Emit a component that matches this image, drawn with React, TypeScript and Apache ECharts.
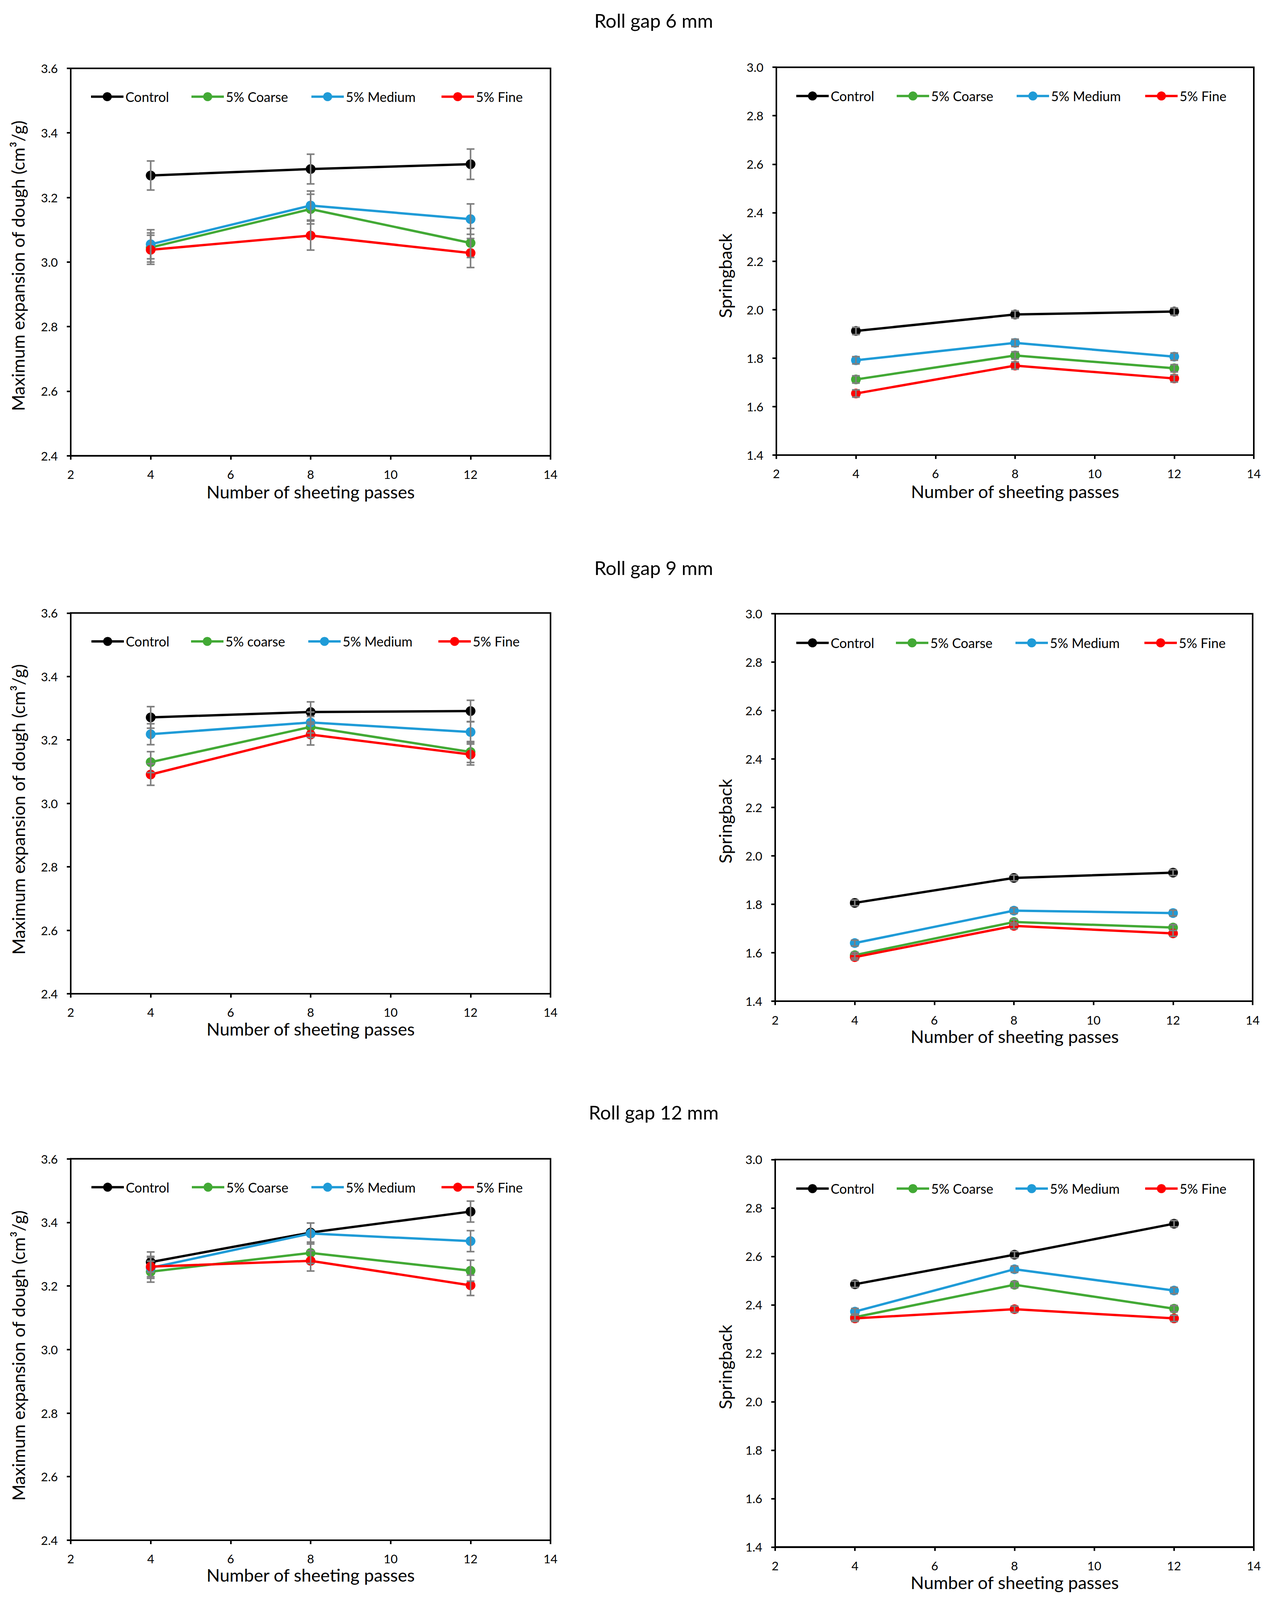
import React, { useEffect, useRef } from "react";
import * as echarts from "echarts";

// ---------- data ----------
const passes = [4, 8, 12];
const xTickValues = [2, 4, 6, 8, 10, 12, 14];
const expansionTickValues = [2.4, 2.6, 2.8, 3.0, 3.2, 3.4, 3.6];
const springbackTickValues = [1.4, 1.6, 1.8, 2.0, 2.2, 2.4, 2.6, 2.8, 3.0];

const legendLabels = ["Control", "5% Coarse", "5% Medium", "5% Fine"];
const legendLabels9 = ["Control", "5% coarse", "5% Medium", "5% Fine"];
const rollGapTitles = ["Roll gap 6 mm", "Roll gap 9 mm", "Roll gap 12 mm"];
const expansionTitle = "Maximum expansion of dough (cm³/g)";
const springbackTitle = "Springback";
const xTitle = "Number of sheeting passes";

// Roll gap 6 mm - maximum expansion
const exp6Control = [3.268, 3.288, 3.303];
const exp6Coarse = [3.045, 3.164, 3.059];
const exp6Medium = [3.055, 3.175, 3.133];
const exp6Fine = [3.038, 3.082, 3.028];
const exp6ControlErr = [0.045, 0.046, 0.047];
const exp6CoarseErr = [0.045, 0.046, 0.045];
const exp6MediumErr = [0.045, 0.045, 0.047];
const exp6FineErr = [0.045, 0.045, 0.045];

// Roll gap 6 mm - springback
const spr6Control = [1.912, 1.98, 1.992];
const spr6Coarse = [1.712, 1.811, 1.758];
const spr6Medium = [1.791, 1.863, 1.806];
const spr6Fine = [1.654, 1.769, 1.716];
const spr6ControlErr = [0.015, 0.015, 0.015];
const spr6CoarseErr = [0.015, 0.015, 0.015];
const spr6MediumErr = [0.015, 0.015, 0.015];
const spr6FineErr = [0.015, 0.015, 0.015];

// Roll gap 9 mm - maximum expansion
const exp9Control = [3.271, 3.288, 3.291];
const exp9Coarse = [3.13, 3.241, 3.162];
const exp9Medium = [3.218, 3.255, 3.225];
const exp9Fine = [3.091, 3.217, 3.154];
const exp9ControlErr = [0.034, 0.032, 0.034];
const exp9CoarseErr = [0.033, 0.033, 0.033];
const exp9MediumErr = [0.033, 0.033, 0.033];
const exp9FineErr = [0.034, 0.033, 0.033];

// Roll gap 9 mm - springback
const spr9Control = [1.806, 1.909, 1.931];
const spr9Coarse = [1.59, 1.727, 1.704];
const spr9Medium = [1.64, 1.774, 1.764];
const spr9Fine = [1.582, 1.711, 1.68];
const spr9ControlErr = [0.012, 0.012, 0.012];
const spr9CoarseErr = [0.012, 0.012, 0.012];
const spr9MediumErr = [0.012, 0.012, 0.012];
const spr9FineErr = [0.012, 0.012, 0.012];

// Roll gap 12 mm - maximum expansion
const exp12Control = [3.275, 3.368, 3.434];
const exp12Coarse = [3.245, 3.304, 3.248];
const exp12Medium = [3.257, 3.365, 3.341];
const exp12Fine = [3.261, 3.279, 3.202];
const exp12ControlErr = [0.032, 0.03, 0.033];
const exp12CoarseErr = [0.033, 0.033, 0.033];
const exp12MediumErr = [0.033, 0.033, 0.033];
const exp12FineErr = [0.032, 0.032, 0.032];

// Roll gap 12 mm - springback
const spr12Control = [2.485, 2.607, 2.735];
const spr12Coarse = [2.349, 2.483, 2.384];
const spr12Medium = [2.372, 2.547, 2.459];
const spr12Fine = [2.344, 2.382, 2.344];
const spr12ControlErr = [0.013, 0.013, 0.013];
const spr12CoarseErr = [0.013, 0.013, 0.013];
const spr12MediumErr = [0.013, 0.013, 0.013];
const spr12FineErr = [0.013, 0.013, 0.013];

// ---------- styling / layout (reference pixel space 3253 x 4497) ----------
const REF_W = 3253;
const REF_H = 4497;
const colors = ["#000000", "#42A935", "#1F9BD7", "#FF0000"];
const FONT = "Lato";

type Panel = {
  grid: { left: number; top: number; width: number; height: number };
  ticks: number[];
  labels: string[];
  values: number[][];
  errors: number[][];
  legendX: number[];
  legendY: number;
  yTitle: string;
  yTitlePos: [number, number];
  xTitlePos: [number, number];
};

const panels: Panel[] = [
  {
    grid: { left: 181, top: 192, width: 1228, height: 1089 },
    ticks: expansionTickValues,
    labels: legendLabels,
    values: [exp6Control, exp6Coarse, exp6Medium, exp6Fine],
    errors: [exp6ControlErr, exp6CoarseErr, exp6MediumErr, exp6FineErr],
    legendX: [49, 306, 613, 946],
    legendY: 269,
    yTitle: expansionTitle,
    yTitlePos: [46, 747],
    xTitlePos: [795, 1382],
  },
  {
    grid: { left: 1987, top: 189, width: 1222, height: 1090 },
    ticks: springbackTickValues,
    labels: legendLabels,
    values: [spr6Control, spr6Coarse, spr6Medium, spr6Fine],
    errors: [spr6ControlErr, spr6CoarseErr, spr6MediumErr, spr6FineErr],
    legendX: [48, 305, 612, 941],
    legendY: 267,
    yTitle: springbackTitle,
    yTitlePos: [1856, 775],
    xTitlePos: [2598, 1381],
  },
  {
    grid: { left: 181, top: 1723, width: 1228, height: 1070 },
    ticks: expansionTickValues,
    labels: legendLabels9,
    values: [exp9Control, exp9Coarse, exp9Medium, exp9Fine],
    errors: [exp9ControlErr, exp9CoarseErr, exp9MediumErr, exp9FineErr],
    legendX: [50, 305, 605, 938],
    legendY: 1800,
    yTitle: expansionTitle,
    yTitlePos: [47, 2275],
    xTitlePos: [795, 2892],
  },
  {
    grid: { left: 1984, top: 1725, width: 1222, height: 1089 },
    ticks: springbackTickValues,
    labels: legendLabels,
    values: [spr9Control, spr9Coarse, spr9Medium, spr9Fine],
    errors: [spr9ControlErr, spr9CoarseErr, spr9MediumErr, spr9FineErr],
    legendX: [51, 306, 612, 942],
    legendY: 1804,
    yTitle: springbackTitle,
    yTitlePos: [1856, 2308],
    xTitlePos: [2597, 2913],
  },
  {
    grid: { left: 181, top: 3257, width: 1228, height: 1072 },
    ticks: expansionTickValues,
    labels: legendLabels,
    values: [exp12Control, exp12Coarse, exp12Medium, exp12Fine],
    errors: [exp12ControlErr, exp12CoarseErr, exp12MediumErr, exp12FineErr],
    legendX: [50, 307, 613, 946],
    legendY: 3334,
    yTitle: expansionTitle,
    yTitlePos: [47, 3810],
    xTitlePos: [795, 4427],
  },
  {
    grid: { left: 1984, top: 3259, width: 1225, height: 1089 },
    ticks: springbackTickValues,
    labels: legendLabels,
    values: [spr12Control, spr12Coarse, spr12Medium, spr12Fine],
    errors: [spr12ControlErr, spr12CoarseErr, spr12MediumErr, spr12FineErr],
    legendX: [51, 308, 612, 944],
    legendY: 3338,
    yTitle: springbackTitle,
    yTitlePos: [1856, 3842],
    xTitlePos: [2597, 4448],
  },
];

const titlePositions: [number, number][] = [
  [1673, 57],
  [1673, 1595],
  [1673, 3126],
];

function errorBarRenderer(params: any, api: any) {
  const x = api.value(0);
  const lo = api.coord([x, api.value(1)]);
  const hi = api.coord([x, api.value(2)]);
  const hw = 10;
  const style = { stroke: "#7F7F7F", lineWidth: 4 };
  return {
    type: "group",
    children: [
      { type: "line", shape: { x1: lo[0], y1: lo[1], x2: hi[0], y2: hi[1] }, style },
      { type: "line", shape: { x1: lo[0] - hw, y1: lo[1], x2: lo[0] + hw, y2: lo[1] }, style },
      { type: "line", shape: { x1: hi[0] - hw, y1: hi[1], x2: hi[0] + hw, y2: hi[1] }, style },
    ],
  };
}

function buildOption(H: number) {
  const sy = H / REF_H;
  const Y = (v: number) => v * sy;

  const axisLine = { show: true, onZero: false, lineStyle: { color: "#000", width: 4 } };
  const axisTick = { show: true, inside: false, length: 10, lineStyle: { color: "#000", width: 4 } };
  const labelStyle = { fontSize: 31, fontFamily: FONT, color: "#000" };

  const grid = panels.map((p) => ({
    left: p.grid.left,
    width: p.grid.width,
    top: Y(p.grid.top),
    height: Y(p.grid.height),
    show: true,
    borderColor: "#000",
    borderWidth: 4,
    backgroundColor: "transparent",
  }));

  const xAxis = panels.map((p, i) => ({
    type: "value",
    gridIndex: i,
    min: xTickValues[0],
    max: xTickValues[xTickValues.length - 1],
    interval: xTickValues[1] - xTickValues[0],
    axisLine,
    axisTick,
    axisLabel: { ...labelStyle, margin: Math.round(35 * sy) },
    splitLine: { show: false },
  }));

  const yAxis = panels.map((p, i) => ({
    type: "value",
    gridIndex: i,
    min: p.ticks[0],
    max: p.ticks[p.ticks.length - 1],
    interval: 0.2,
    axisLine,
    axisTick,
    axisLabel: { ...labelStyle, margin: 33, formatter: (v: number) => v.toFixed(1) },
    splitLine: { show: false },
  }));

  const series: any[] = [];
  const legend: any[] = [];
  panels.forEach((p, i) => {
    p.values.forEach((vals, s) => {
      series.push({
        type: "line",
        name: p.labels[s],
        xAxisIndex: i,
        yAxisIndex: i,
        data: passes.map((x, k) => [x, vals[k]]),
        symbol: "circle",
        symbolSize: 25,
        lineStyle: { color: colors[s], width: 6 },
        itemStyle: { color: colors[s] },
        z: 2,
        silent: true,
      });
    });
    p.values.forEach((vals, s) => {
      series.push({
        type: "custom",
        name: "err-" + i + "-" + s,
        xAxisIndex: i,
        yAxisIndex: i,
        data: passes.map((x, k) => [x, vals[k] - p.errors[s][k], vals[k] + p.errors[s][k]]),
        encode: { x: 0, y: [1, 2] },
        renderItem: errorBarRenderer,
        z: 3,
        silent: true,
      });
    });
    p.labels.forEach((label, s) => {
      legend.push({
        data: [label],
        left: p.grid.left + p.legendX[s],
        top: Y(p.legendY) - 14.5,
        orient: "horizontal",
        padding: 0,
        itemWidth: 83,
        itemHeight: 29,
        selectedMode: false,
        lineStyle: { width: 6 },
        textStyle: { fontSize: 34, fontFamily: FONT, color: "#000" },
      });
    });
  });

  const graphic: any[] = [];
  rollGapTitles.forEach((t, i) => {
    graphic.push({
      type: "text",
      x: titlePositions[i][0],
      y: Y(titlePositions[i][1]),
      style: {
        text: t,
        fontSize: 49,
        fontFamily: FONT,
        fill: "#000",
        textAlign: "center",
        textVerticalAlign: "middle",
      },
    });
  });
  panels.forEach((p) => {
    graphic.push({
      type: "text",
      x: p.yTitlePos[0],
      y: Y(p.yTitlePos[1]),
      rotation: Math.PI / 2,
      style: {
        text: p.yTitle,
        fontSize: 45,
        fontFamily: FONT,
        fill: "#000",
        textAlign: "center",
        textVerticalAlign: "middle",
      },
    });
    graphic.push({
      type: "text",
      x: p.xTitlePos[0],
      y: Y(p.xTitlePos[1]),
      style: {
        text: xTitle,
        fontSize: 45,
        fontFamily: FONT,
        fill: "#000",
        textAlign: "center",
        textVerticalAlign: "middle",
      },
    });
  });

  return {
    animation: false,
    backgroundColor: "#ffffff",
    grid,
    xAxis,
    yAxis,
    legend,
    series,
    graphic,
  };
}

export default function App() {
  const ref = useRef<HTMLDivElement>(null);
  const H = Math.min(REF_H, typeof window !== "undefined" && window.innerHeight ? window.innerHeight : REF_H);
  useEffect(() => {
    document.body.style.margin = "0";
    const chart = echarts.init(ref.current as HTMLDivElement, null, { renderer: "svg" });
    chart.setOption(buildOption(H) as any);
    return () => chart.dispose();
  }, [H]);
  return <div ref={ref} style={{ width: REF_W, height: H, background: "#fff" }} />;
}
